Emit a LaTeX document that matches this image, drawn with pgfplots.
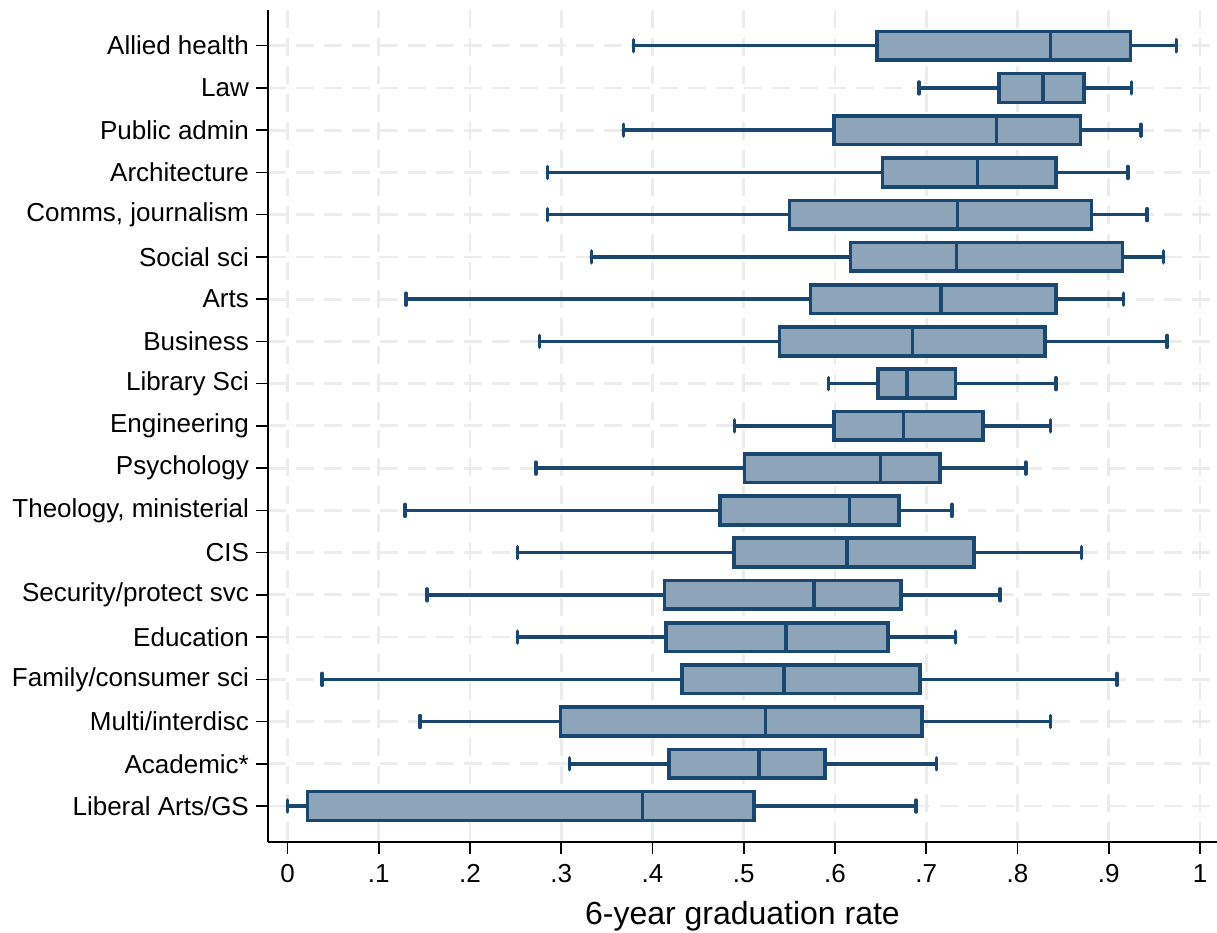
\documentclass[border=0pt]{standalone}
\usepackage{pgfplots}
\pgfplotsset{compat=1.18}
\usepgfplotslibrary{statistics}
\usepackage{fontspec}
\setmainfont{Liberation Sans}
\definecolor{stnavy}{RGB}{26,71,111}
\definecolor{stfill}{RGB}{142,164,184}
\definecolor{gridc}{RGB}{236,236,236}
\pgfplotsset{gb/.style={draw=stnavy, fill=stfill, line width=1.8pt, solid, mark=none}}
\begin{document}
\begin{tikzpicture}
\begin{axis}[
  name=ax,
  scale only axis, width=474.7pt, height=416pt,
  xmin=-0.0215, xmax=1.0186, ymin=0.155, ymax=19.845, y dir=reverse,
  axis x line*=bottom, axis y line*=left,
  axis line style={black, line width=0.8pt},
  xtick={0,0.1,0.2,0.3,0.4,0.5,0.6,0.7,0.8,0.9,1},
  xticklabels={0,.1,.2,.3,.4,.5,.6,.7,.8,.9,1},
  ytick={1,2,3,4,5,6,7,8,9,10,11,12,13,14,15,16,17,18,19},
  yticklabels={Allied health, Law, Public admin, Architecture, {Comms, journalism}, Social sci, Arts, Business, Library Sci, Engineering, Psychology, {Theology, ministerial}, CIS, Security/protect svc, Education, Family/consumer sci, Multi/interdisc, Academic*, Liberal Arts/GS},
  tick style={black, line width=0.8pt},
  major tick length=6pt,
  tick align=outside,
  xmajorgrids, ymajorgrids,
  major grid style={gridc, line width=1.4pt, dash pattern=on 9pt off 5pt},
  ticklabel style={font=\fontsize{13}{15}\selectfont},
  xticklabel style={yshift=-2pt},
  /pgf/number format/assume math mode=true,
  xlabel={6-year graduation rate},
  xlabel style={font=\fontsize{16}{19}\selectfont, yshift=-2pt},
  boxplot/box extend=0.68,
  boxplot/whisker extend=0.28,
  boxplot/every whisker/.style={line width=1.8pt, line cap=round},
  boxplot/every median/.style={line width=1.8pt},
]
\addplot[gb, boxplot prepared={draw position=1, lower whisker=0.379, lower quartile=0.646, median=0.836, upper quartile=0.924, upper whisker=0.974}] coordinates {};
\addplot[gb, boxplot prepared={draw position=2, lower whisker=0.692, lower quartile=0.780, median=0.828, upper quartile=0.873, upper whisker=0.925}] coordinates {};
\addplot[gb, boxplot prepared={draw position=3, lower whisker=0.368, lower quartile=0.599, median=0.777, upper quartile=0.869, upper whisker=0.935}] coordinates {};
\addplot[gb, boxplot prepared={draw position=4, lower whisker=0.285, lower quartile=0.652, median=0.756, upper quartile=0.842, upper whisker=0.921}] coordinates {};
\addplot[gb, boxplot prepared={draw position=5, lower whisker=0.285, lower quartile=0.550, median=0.734, upper quartile=0.881, upper whisker=0.942}] coordinates {};
\addplot[gb, boxplot prepared={draw position=6, lower whisker=0.333, lower quartile=0.617, median=0.733, upper quartile=0.915, upper whisker=0.960}] coordinates {};
\addplot[gb, boxplot prepared={draw position=7, lower whisker=0.130, lower quartile=0.573, median=0.716, upper quartile=0.842, upper whisker=0.916}] coordinates {};
\addplot[gb, boxplot prepared={draw position=8, lower whisker=0.276, lower quartile=0.539, median=0.685, upper quartile=0.830, upper whisker=0.964}] coordinates {};
\addplot[gb, boxplot prepared={draw position=9, lower whisker=0.593, lower quartile=0.647, median=0.679, upper quartile=0.732, upper whisker=0.842}] coordinates {};
\addplot[gb, boxplot prepared={draw position=10, lower whisker=0.490, lower quartile=0.599, median=0.675, upper quartile=0.762, upper whisker=0.836}] coordinates {};
\addplot[gb, boxplot prepared={draw position=11, lower whisker=0.272, lower quartile=0.501, median=0.650, upper quartile=0.715, upper whisker=0.809}] coordinates {};
\addplot[gb, boxplot prepared={draw position=12, lower whisker=0.129, lower quartile=0.474, median=0.616, upper quartile=0.670, upper whisker=0.728}] coordinates {};
\addplot[gb, boxplot prepared={draw position=13, lower whisker=0.252, lower quartile=0.489, median=0.613, upper quartile=0.752, upper whisker=0.870}] coordinates {};
\addplot[gb, boxplot prepared={draw position=14, lower whisker=0.153, lower quartile=0.413, median=0.577, upper quartile=0.672, upper whisker=0.781}] coordinates {};
\addplot[gb, boxplot prepared={draw position=15, lower whisker=0.252, lower quartile=0.415, median=0.546, upper quartile=0.658, upper whisker=0.732}] coordinates {};
\addplot[gb, boxplot prepared={draw position=16, lower whisker=0.038, lower quartile=0.432, median=0.544, upper quartile=0.693, upper whisker=0.909}] coordinates {};
\addplot[gb, boxplot prepared={draw position=17, lower whisker=0.145, lower quartile=0.299, median=0.524, upper quartile=0.695, upper whisker=0.836}] coordinates {};
\addplot[gb, boxplot prepared={draw position=18, lower whisker=0.309, lower quartile=0.418, median=0.517, upper quartile=0.589, upper whisker=0.711}] coordinates {};
\addplot[gb, boxplot prepared={draw position=19, lower whisker=0.000, lower quartile=0.022, median=0.389, upper quartile=0.511, upper whisker=0.689}] coordinates {};
\end{axis}
\pgfresetboundingbox
\path[use as bounding box] ([shift={(-134pt,-45.5pt)}]ax.south west) rectangle ([shift={(0pt,5pt)}]ax.north east);
\end{tikzpicture}
\end{document}
